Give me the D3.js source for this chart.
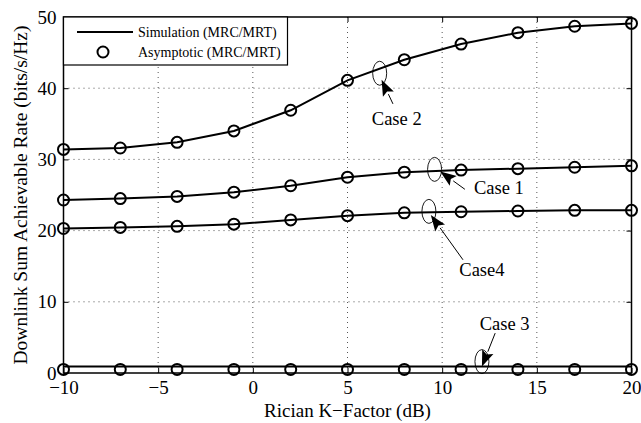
<!DOCTYPE html>
<html><head><meta charset="utf-8">
<script src="https://cdn.jsdelivr.net/npm/d3@7"></script>
<style>body{margin:0;background:#fff}svg{display:block}</style>
</head><body><svg id="c" width="641" height="423"></svg>
<script>
const kFactor = [-10,-7,-4,-1,2,5,8,11,14,17,20];
const case2 = [31.4,31.6,32.4,34.0,36.9,41.1,44.0,46.2,47.8,48.7,49.1];
const case1 = [24.3,24.5,24.8,25.4,26.3,27.5,28.2,28.5,28.7,28.9,29.1];
const case4 = [20.3,20.45,20.6,20.9,21.5,22.1,22.5,22.65,22.75,22.85,22.85];
const case3Sim = [0.9,0.9,0.9,0.9,0.9,0.9,0.9,0.9,0.9,0.9,0.9];
const case3Asy = [0.5,0.5,0.5,0.5,0.5,0.5,0.5,0.5,0.5,0.5,0.5];
const xTicks = [-10,-5,0,5,10,15,20];
const yTicks = [0,10,20,30,40,50];
const legendLabels = ["Simulation (MRC/MRT)","Asymptotic (MRC/MRT)"];
const annotations = [
  {label:"Case 2", ex:6.7, ey:42.1, tx:7.6, ty:35.8, ax:7.4, ay:37.8, hx:6.8, hy:41.2},
  {label:"Case 1", ex:9.6, ey:28.6, tx:13.0, ty:26.1, ax:11.2, ay:25.8, hx:9.9, hy:28.3},
  {label:"Case4",  ex:9.3, ey:22.7, tx:12.1, ty:14.5, ax:11.1, ay:15.9, hx:9.4, hy:22.2},
  {label:"Case 3", ex:12.1, ey:1.6, tx:13.3, ty:7.0, ax:12.8, ay:5.6, hx:12.1, hy:0.9}
];

const FONT = "'Liberation Serif'";
const svg = d3.select("#c");
const L=63.5, R=631.5, T=17, B=373;
const x = d3.scaleLinear().domain([-10,20]).range([L,R]);
const y = d3.scaleLinear().domain([0,50]).range([B,T]);

const g = svg.append("g");
g.selectAll(".gx").data(xTicks.slice(1,-1)).join("line")
  .attr("x1",d=>x(d)).attr("x2",d=>x(d)).attr("y1",T).attr("y2",B)
  .attr("stroke","#555").attr("stroke-width",1).attr("stroke-dasharray","1,4");
g.selectAll(".gy").data(yTicks.slice(1,-1)).join("line")
  .attr("x1",L).attr("x2",R).attr("y1",d=>y(d)).attr("y2",d=>y(d))
  .attr("stroke","#555").attr("stroke-width",1).attr("stroke-dasharray","1,4");

const xa = svg.append("g").attr("transform",`translate(0,${B})`)
  .call(d3.axisBottom(x).tickValues(xTicks).tickSize(-5).tickPadding(8).tickFormat(d=>d<0?"\u2212"+Math.abs(d):d));
const xt = svg.append("g").attr("transform",`translate(0,${T})`)
  .call(d3.axisTop(x).tickValues(xTicks).tickSize(-5).tickFormat(""));
const ya = svg.append("g").attr("transform",`translate(${L},0)`)
  .call(d3.axisLeft(y).tickValues(yTicks).tickSize(-5).tickPadding(7));
const yr = svg.append("g").attr("transform",`translate(${R},0)`)
  .call(d3.axisRight(y).tickValues(yTicks).tickSize(-5).tickFormat(""));
[xa,xt,ya,yr].forEach(a=>{a.attr("font-family",null);a.select(".domain").remove();a.selectAll("line").attr("stroke","#000").attr("stroke-width",1);});
[xa,ya].forEach(a=>a.selectAll("text").style("font-size","19px").style("font-family",FONT).attr("fill","#000"));
xa.selectAll("text").attr("dy","0.71em");
ya.selectAll("text").attr("dy","0.32em");
svg.append("rect").attr("x",L).attr("y",T).attr("width",R-L).attr("height",B-T)
  .attr("fill","none").attr("stroke","#000").attr("stroke-width",1.5);

const series = [case2,case1,case4,case3Sim];
const line = d3.line().x((d,i)=>x(kFactor[i])).y(d=>y(d));
svg.selectAll(".ser").data(series).join("path")
  .attr("d",line).attr("fill","none").attr("stroke","#000").attr("stroke-width",2);
const markers = [case2,case1,case4,case3Asy];
markers.forEach(arr=>{
  svg.selectAll(null).data(arr).join("circle")
    .attr("cx",(d,i)=>x(kFactor[i])).attr("cy",d=>y(d)).attr("r",5.5)
    .attr("fill","none").attr("stroke","#000").attr("stroke-width",2);
});

annotations.forEach(a=>{
  svg.append("ellipse").attr("cx",x(a.ex)).attr("cy",y(a.ey)).attr("rx",7).attr("ry",12)
    .attr("fill","none").attr("stroke","#000").attr("stroke-width",0.9);
  const x1=x(a.ax), y1=y(a.ay), x2=x(a.hx), y2=y(a.hy);
  const ang=Math.atan2(y2-y1,x2-x1), len=16, w=6;
  const bx=x2-len*Math.cos(ang), by=y2-len*Math.sin(ang);
  svg.append("line").attr("x1",x1).attr("y1",y1).attr("x2",bx).attr("y2",by)
    .attr("stroke","#000").attr("stroke-width",1);
  const px=-Math.sin(ang), py=Math.cos(ang);
  svg.append("path").attr("d",`M${x2},${y2}L${bx+px*w},${by+py*w}L${bx+3*Math.cos(ang)},${by+3*Math.sin(ang)}L${bx-px*w},${by-py*w}Z`)
    .attr("fill","#000");
  svg.append("text").attr("x",x(a.tx)).attr("y",y(a.ty)).attr("text-anchor","middle")
    .attr("dy","0.35em").style("font-size","18.5px").style("font-family",FONT).text(a.label);
});

const lg = svg.append("g");
lg.append("rect").attr("x",L).attr("y",T).attr("width",224).attr("height",48)
  .attr("fill","#fff").attr("stroke","#000").attr("stroke-width",1.2);
lg.append("line").attr("x1",77).attr("x2",133).attr("y1",32).attr("y2",32).attr("stroke","#000").attr("stroke-width",2);
lg.append("circle").attr("cx",103).attr("cy",52).attr("r",5.5).attr("fill","none").attr("stroke","#000").attr("stroke-width",2);
lg.selectAll("text").data(legendLabels).join("text")
  .attr("x",138).attr("y",(d,i)=>32+i*20).attr("dy","0.35em")
  .style("font-size","14px").style("font-family",FONT).text(d=>d);

svg.append("text").attr("x",(L+R)/2).attr("y",410).attr("text-anchor","middle")
  .attr("dy","0.35em").style("font-size","19px").style("font-family",FONT).text("Rician K\u2212Factor (dB)");
svg.append("text").attr("transform",`translate(20,${(T+B)/2}) rotate(-90)`).attr("text-anchor","middle")
  .attr("dy","0.35em").style("font-size","19.5px").style("font-family",FONT).text("Downlink Sum Achievable Rate (bits/s/Hz)");
</script></body></html>
